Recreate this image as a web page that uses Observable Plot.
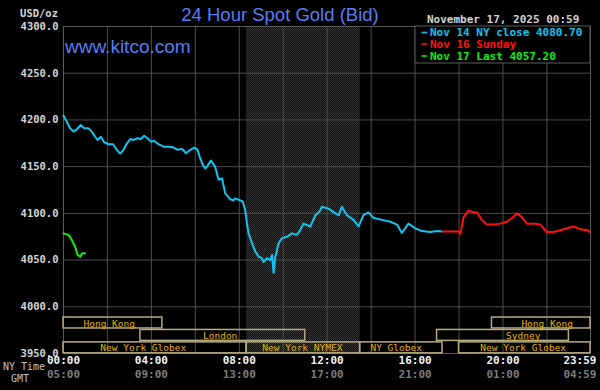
<!DOCTYPE html>
<html><head><meta charset="utf-8">
<script src="https://cdn.jsdelivr.net/npm/d3@7"></script>
<script src="https://cdn.jsdelivr.net/npm/@observablehq/plot@0.6"></script>
<style>
html,body{margin:0;padding:0;background:#000;}
#chart{width:600px;height:390px;}
</style></head><body><div id="chart"></div>
<script>
// ---- data (NY time in decimal hours, price USD/oz) ----
const nov14Hours = [0.00,0.15,0.30,0.46,0.61,0.79,0.94,1.14,1.29,1.44,1.55,1.70,1.85,2.05,2.25,2.43,2.58,2.73,2.89,3.04,3.19,3.37,3.52,3.67,3.82,3.98,4.13,4.32,4.55,4.78,5.01,5.19,5.39,5.58,5.77,5.95,6.10,6.22,6.34,6.45,6.53,6.71,6.90,7.06,7.21,7.36,7.59,7.74,7.81,8.04,8.16,8.27,8.35,8.42,8.58,8.73,8.88,9.03,9.10,9.26,9.41,9.49,9.56,9.64,9.79,9.94,10.17,10.40,10.62,10.77,10.92,11.08,11.23,11.46,11.65,11.76,12.06,12.37,12.52,12.67,12.90,13.20,13.43,13.65,13.88,14.11,14.49,14.87,15.18,15.40,15.70,16.01,16.31,16.69,17.00,17.25];
const nov14Price = [4204.6,4198,4191,4187.5,4190,4194.6,4191,4191,4187.5,4182,4178.6,4182,4176,4174,4174,4168,4164,4168,4175,4179.6,4178.6,4180.4,4179.6,4183,4180.4,4176.8,4177.5,4174,4171.4,4171.4,4170.4,4168,4169,4164.3,4168,4170.4,4168,4159,4152,4148,4150,4156.4,4150,4136,4137.5,4121.5,4115,4114,4116,4114,4112.5,4103.6,4089,4078.6,4068,4059,4053.6,4052,4048,4052,4050,4055.4,4036.4,4053.6,4068,4073.4,4075,4078.6,4077,4082,4089,4087.5,4085.7,4098,4101.8,4107,4105,4100,4098,4107,4098,4093,4086,4098,4101,4095,4093,4091,4088,4079,4089,4084,4081,4080,4081,4080.7];
const nov16Hours = [17.25,18.00,18.06,18.21,18.43,18.66,18.81,19.04,19.27,19.57,19.88,20.18,20.41,20.64,20.86,21.09,21.39,21.70,22.00,22.31,22.61,22.92,23.22,23.52,23.83,23.95];
const nov16Price = [4080.7,4080.7,4078,4096,4103,4101,4101,4093,4088,4088,4089,4091,4095,4100,4096,4089,4089,4088,4080,4080,4082,4084,4086,4083,4082,4080];
const nov17Hours = [0.00,0.23,0.38,0.53,0.64,0.76,0.84,0.98];
const nov17Price = [4078.6,4077,4071.4,4064,4055.4,4053.6,4057,4057.2];

const yTicks = [3950,4000,4050,4100,4150,4200,4250,4300];
const xGridHours = [0,2,4,6,8,10,12,14,16,18,20,22];
const xTickHours = [0,4,8,12,16,20];
const nyTimeLabels = ["00:00","04:00","08:00","12:00","16:00","20:00"];
const gmtLabels = ["05:00","09:00","13:00","17:00","21:00","01:00"];
const endHour = 23 + 59/60;
const endNyLabel = "23:59";
const endGmtLabel = "04:59";

const sessionNames = ["Hong Kong","London","New York Globex","New York NYMEX","NY Globex","Sydney","Hong Kong","New York Globex"];
const sessionStart = [0,3.5,0,8.333,13.5,17,19.5,18];
const sessionEnd   = [4.5,11,8.333,13.5,17.25,23,endHour,endHour];
const sessionRow   = [0,1,2,2,2,1,0,2];
const sessionLabelAt = [2.08,7.13,3.63,10.87,15.14,20.92,22.01,20.92];
const nymexStart = 8.333, nymexEnd = 13.5;

const legendNames = ["Nov 14 NY close 4080.70","Nov 16 Sunday","Nov 17 Last 4057.20"];
const chartTitle = "24 Hour Spot Gold (Bid)";
const siteName = "www.kitco.com";
const stampText = "November 17, 2025 00:59";

// ---- styles ----
const COL14 = "#14c4f0", COL16 = "#ff1010", COL17 = "#10ee10";
const legendColors = [COL14, COL16, COL17];
const GRID = "#4c4c4c";
const MONO = "DejaVu Sans Mono, monospace";

const toRows = (hs, ps) => hs.map((h, i) => ({h, p: ps[i]}));
const s14 = toRows(nov14Hours, nov14Price);
const s16 = toRows(nov16Hours, nov16Price);
const s17 = toRows(nov17Hours, nov17Price);

// session rows expressed in price units (three bands at the bottom)
const rowTop = r => 3988.5 - r * 13.3;
const rowBot = r => rowTop(r) - 11.7;
const sessions = sessionNames.map((n, i) => ({
  name: n, x1: sessionStart[i], x2: sessionEnd[i], row: sessionRow[i], lab: sessionLabelAt[i]
}));

const plot = Plot.plot({
  width: 600, height: 390,
  marginLeft: 63, marginRight: 10, marginTop: 26, marginBottom: 37,
  style: {background: "#000", fontFamily: MONO},
  x: {domain: [0, endHour], axis: null},
  y: {domain: [3950, 4300], axis: null},
  marks: [
    Plot.rect([{x1: nymexStart, x2: nymexEnd}], {x1: "x1", x2: "x2", y1: 3950, y2: 4300, fill: "url(#dither)"}),
    Plot.gridX(xGridHours, {stroke: GRID, strokeOpacity: 1}),
    Plot.gridY(yTicks.slice(1, -1), {stroke: GRID, strokeOpacity: 1}),
    Plot.frame({stroke: "#5a5a5a"}),
    Plot.axisY(yTicks, {tickSize: 0, tickPadding: 5, tickFormat: d => d.toFixed(1), fill: "#d4d4d4", fontSize: 10.5, fontWeight: "bold", label: null}),
    Plot.rect(sessions, {x1: "x1", x2: "x2", y1: d => rowBot(d.row), y2: d => rowTop(d.row), fill: "none", stroke: "#b4ac80", strokeWidth: 1.5}),
    Plot.text(sessions, {x: "lab", y: d => (rowTop(d.row) + rowBot(d.row)) / 2, text: "name", fill: "#e6b400", fontSize: 9.5, fontFamily: MONO, dy: 0.5}),
    Plot.line(s14, {x: "h", y: "p", stroke: COL14, strokeWidth: 2}),
    Plot.line(s16, {x: "h", y: "p", stroke: COL16, strokeWidth: 2}),
    Plot.line(s17, {x: "h", y: "p", stroke: COL17, strokeWidth: 2}),
    Plot.text(xTickHours, {x: d => d, frameAnchor: "bottom", dy: 10.7, text: (d, i) => nyTimeLabels[i], fill: "#f2f2f2", fontSize: 11, fontWeight: "bold"}),
    Plot.text(xTickHours, {x: d => d, frameAnchor: "bottom", dy: 24.7, text: (d, i) => gmtLabels[i], fill: "#7c7c7c", fontSize: 11, fontWeight: "bold"}),
    Plot.text([endHour], {x: d => d, frameAnchor: "bottom", dy: 10.7, dx: 6, textAnchor: "end", text: () => endNyLabel, fill: "#f2f2f2", fontSize: 11, fontWeight: "bold"}),
    Plot.text([endHour], {x: d => d, frameAnchor: "bottom", dy: 24.7, dx: 6, textAnchor: "end", text: () => endGmtLabel, fill: "#7c7c7c", fontSize: 11, fontWeight: "bold"})
  ]
});

const svg = d3.select(plot);
svg.insert("defs", ":first-child").html(
  '<pattern id="dither" width="2" height="2" patternUnits="userSpaceOnUse">' +
  '<rect width="2" height="2" fill="#0e0e0e"/>' +
  '<rect width="1" height="1" fill="#363636"/><rect x="1" y="1" width="1" height="1" fill="#363636"/></pattern>');

const g = svg.append("g").attr("text-anchor", "start");
g.append("text").attr("x", 280).attr("y", 20.5).attr("text-anchor", "middle")
  .attr("font-family", "Liberation Sans, Arial, sans-serif").attr("font-size", 18.5)
  .attr("fill", "#5a7cf6").text(chartTitle);
g.append("text").attr("x", 65).attr("y", 53.3).attr("text-anchor", "start")
  .attr("font-family", "Liberation Sans, Arial, sans-serif").attr("font-size", 19)
  .attr("fill", "#5a7cf6").text(siteName);
g.append("text").attr("x", 427).attr("y", 23).attr("text-anchor", "start").attr("font-family", MONO).attr("font-size", 11)
  .attr("font-weight", "bold").attr("fill", "#d2d2d2").text(stampText);
g.append("text").attr("x", 58).attr("y", 17).attr("text-anchor", "end").attr("font-family", MONO)
  .attr("font-size", 10.5).attr("font-weight", "bold").attr("fill", "#d4d4d4").text("USD/oz");
g.append("text").attr("x", 3).attr("y", 369.5).attr("text-anchor", "start").attr("font-family", MONO).attr("font-size", 10)
  .attr("fill", "#c4c4c4").text("NY Time");
g.append("text").attr("x", 11).attr("y", 381.5).attr("text-anchor", "start").attr("font-family", MONO).attr("font-size", 10)
  .attr("fill", "#c4c4c4").text("GMT");

// legend box
g.append("rect").attr("x", 415).attr("y", 26).attr("width", 175).attr("height", 37)
  .attr("fill", "#000").attr("stroke", "#5a5a5a");
const lg = [36, 47.5, 59.5];
legendNames.forEach((n, i) => {
  g.append("line").attr("x1", 421.5).attr("x2", 427).attr("y1", lg[i] - 3.5).attr("y2", lg[i] - 3.5)
    .attr("stroke", legendColors[i]).attr("stroke-width", 1.6);
  g.append("text").attr("x", 430).attr("y", lg[i]).attr("text-anchor", "start").attr("font-family", MONO).attr("font-size", 11)
    .attr("font-weight", "bold").attr("fill", legendColors[i]).text(n);
});

document.getElementById("chart").appendChild(plot);
</script></body></html>
